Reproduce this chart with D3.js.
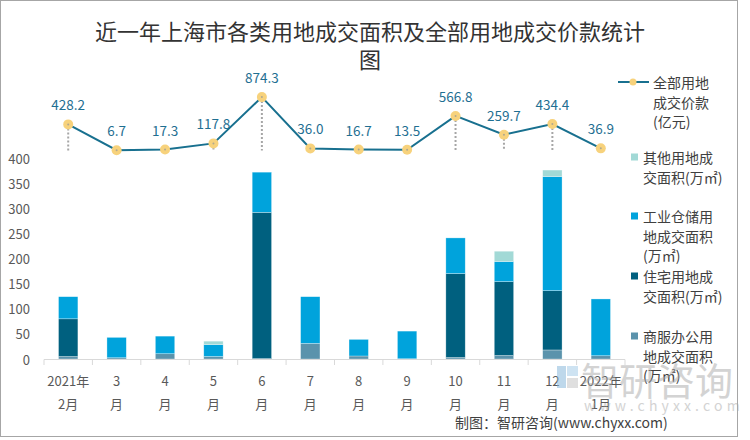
<!DOCTYPE html>
<html><head><meta charset="utf-8">
<script src="https://cdn.jsdelivr.net/npm/d3@7/dist/d3.min.js"></script>
<style>body{margin:0;background:#fff}svg{display:block;font-family:"Noto Sans CJK SC","Noto Sans",sans-serif}</style>
</head><body><svg id="c" width="750" height="440"></svg>
<script>
const categories = ["2021年2月","3月","4月","5月","6月","7月","8月","9月","10月","11月","12月","2022年1月"];
const catLines = [["2021年","2月"],["3","月"],["4","月"],["5","月"],["6","月"],["7","月"],["8","月"],["9","月"],["10","月"],["11","月"],["12","月"],["2022年","1月"]];
const commercial = [5, 2.5, 10.5, 5, 0.8, 31, 6, 0.5, 3, 7, 18, 6.5];
const residential = [75, 0, 0, 0, 291, 0, 0, 0, 167, 147, 118, 0];
const industrial = [44, 40.5, 35, 23.5, 80, 93, 33, 55, 71, 40, 227, 113];
const other = [0, 0, 0, 7, 0, 0, 0, 0, 0, 20.5, 13, 0];
const price = [428.2, 6.7, 17.3, 117.8, 874.3, 36.0, 16.7, 13.5, 566.8, 259.7, 434.4, 36.9];
const yTicks = [0, 50, 100, 150, 200, 250, 300, 350, 400];

const seriesNames = ["商服办公用地成交面积(万㎡)","住宅用地成交面积(万㎡)","工业仓储用地成交面积(万㎡)","其他用地成交面积(万㎡)"];
const colors = ["#5B93AC","#00607F","#00A3DC","#A2D9D6"];

const svg = d3.select("#c");
svg.append("rect").attr("x",0.5).attr("y",0.5).attr("width",737).attr("height",436)
  .attr("fill","#fff").attr("stroke","#a6a6a6");

svg.append("text").attr("x",370).attr("y",30).attr("text-anchor","middle").attr("dominant-baseline","central")
  .attr("font-size",22).attr("fill","#333").text("近一年上海市各类用地成交面积及全部用地成交价款统计");
svg.append("text").attr("x",370).attr("y",58).attr("text-anchor","middle").attr("dominant-baseline","central")
  .attr("font-size",22).attr("fill","#333").text("图");

const xb = d3.scaleBand().domain(categories).range([44, 625]);
const y = d3.scaleLinear().domain([0, 400]).range([359, 158]);
const yL = d3.scaleLinear().domain([0, 1000]).range([150.6, 89.4]);

// y axis labels
svg.append("g").selectAll("text").data(yTicks).join("text")
  .attr("x",30).attr("y",d=>y(d)).attr("text-anchor","end").attr("dominant-baseline","central")
  .attr("font-size",13).attr("fill","#595959").text(d=>d);

// stacked bars
const rows = categories.map((c,i)=>({c, s0:commercial[i], s1:residential[i], s2:industrial[i], s3:other[i]}));
const stack = d3.stack().keys(["s0","s1","s2","s3"])(rows);
svg.append("g").selectAll("g").data(stack).join("g").attr("fill",(d,i)=>colors[i])
  .selectAll("rect").data(d=>d).join("rect")
  .attr("x",d=>xb(d.data.c)+xb.bandwidth()*0.3).attr("width",xb.bandwidth()*0.4)
  .attr("y",d=>y(d[1])).attr("height",d=>Math.max(0,y(d[0])-y(d[1])))
  .attr("stroke","#fff").attr("stroke-opacity",0.5).attr("stroke-width",0.6);

// x axis
const xAxis = svg.append("g");
xAxis.append("line").attr("x1",44).attr("x2",625).attr("y1",359.5).attr("y2",359.5).attr("stroke","#d9d9d9");
xAxis.selectAll(".tk").data(d3.range(13)).join("line")
  .attr("x1",i=>44+i*xb.step()).attr("x2",i=>44+i*xb.step()).attr("y1",359.5).attr("y2",365).attr("stroke","#d9d9d9");
const xl = xAxis.selectAll(".lb").data(categories).join("text")
  .attr("text-anchor","middle").attr("font-size",13).attr("fill","#595959");
xl.each(function(c,i){
  const t = d3.select(this);
  catLines[i].forEach((ln,j)=>t.append("tspan").attr("x",xb(c)+xb.bandwidth()/2).attr("y",386+j*23).text(ln));
});

// drop lines
const cx = c=>xb(c)+xb.bandwidth()/2;
svg.append("g").selectAll("line").data(categories).join("line")
  .attr("x1",cx).attr("x2",cx).attr("y1",(c,i)=>yL(price[i])).attr("y2",yL(0))
  .attr("stroke","#a6a6a6").attr("stroke-width",2).attr("stroke-dasharray","2,2");

// line
svg.append("path").datum(price).attr("fill","none").attr("stroke","#18708F").attr("stroke-width",2)
  .attr("d",d3.line().x((d,i)=>cx(categories[i])).y(d=>yL(d)));
svg.append("g").selectAll("circle").data(price).join("circle")
  .attr("cx",(d,i)=>cx(categories[i])).attr("cy",d=>yL(d)).attr("r",5).attr("fill","#F7D27C");
svg.append("g").selectAll("circle").data(price).join("circle")
  .attr("cx",(d,i)=>cx(categories[i])).attr("cy",d=>yL(d)).attr("r",1).attr("fill","#b0a890");
svg.append("g").selectAll("text").data(price).join("text")
  .attr("x",(d,i)=>cx(categories[i])).attr("y",d=>yL(d)-20).attr("text-anchor","middle").attr("dominant-baseline","central")
  .attr("font-size",13.5).attr("fill","#1F6F92").text(d=>d.toFixed(1));

// legend
const lg = svg.append("g").attr("font-size",14).attr("fill","#404040");
lg.append("line").attr("x1",618).attr("x2",649).attr("y1",82).attr("y2",82).attr("stroke","#18708F").attr("stroke-width",2);
lg.append("circle").attr("cx",633).attr("cy",82).attr("r",3.5).attr("fill","#F7D27C");
const legendItems = [
  {lines:["全部用地","成交价款","(亿元)"], y:[82,102,121]},
  {lines:["其他用地成","交面积(万㎡)"], y:[157,177], color:colors[3]},
  {lines:["工业仓储用","地成交面积","(万㎡)"], y:[216,236,255], color:colors[2]},
  {lines:["住宅用地成","交面积(万㎡)"], y:[276,296], color:colors[1]},
  {lines:["商服办公用","地成交面积","(万㎡)"], y:[336,356,375], color:colors[0]}
];
legendItems.forEach((it,k)=>{
  const tx = k===0 ? 653 : 643;
  if(it.color) lg.append("rect").attr("x",631).attr("y",it.y[0]-3.5).attr("width",7).attr("height",7).attr("fill",it.color);
  it.lines.forEach((ln,j)=>lg.append("text").attr("x",tx).attr("y",it.y[j]).attr("dominant-baseline","central").text(ln));
});

// watermark
const wm = svg.append("g").attr("opacity",0.5);
wm.append("rect").attr("x",557).attr("y",366).attr("width",9).attr("height",22).attr("fill","#7fb3d9");
wm.append("rect").attr("x",567).attr("y",366).attr("width",11).attr("height",10).attr("fill","#9fc8e6");
wm.append("rect").attr("x",567).attr("y",378).attr("width",11).attr("height",10).attr("fill","#c0c0c0");
wm.append("text").attr("x",581).attr("y",378).attr("dominant-baseline","central").attr("font-size",38)
  .attr("fill","#a8a8a8").text("智研咨询");
wm.append("text").attr("x",584).attr("y",405).attr("dominant-baseline","central").attr("font-size",14)
  .attr("letter-spacing",4.2).attr("fill","#a8a8a8").text("www.chyxx.com");

svg.append("text").attr("x",455).attr("y",422).attr("dominant-baseline","central").attr("font-size",14)
  .attr("fill","#404040").text("制图：智研咨询(www.chyxx.com)");
</script></body></html>
